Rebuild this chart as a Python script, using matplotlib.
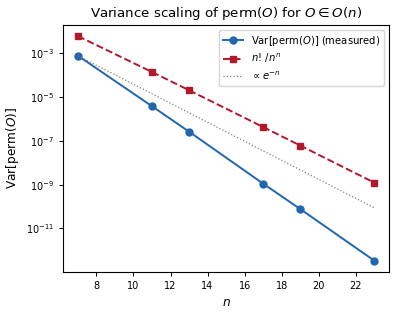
import numpy as np
import matplotlib
matplotlib.use("Agg")
import matplotlib.pyplot as plt
from matplotlib.ticker import NullLocator

# matrix sizes
n_vals = np.array([7, 11, 13, 17, 19, 23])
# measured variance of perm(O)
var_meas = np.array([7.76e-4, 3.83e-6, 2.64e-7, 1.12e-9, 7.76e-11, 3.40e-13])
# n!/n^n
fact_ratio = np.array([6.12e-3, 1.40e-4, 2.06e-5, 4.30e-7, 6.15e-8, 1.24e-9])

# reference slope anchored at the first measured point
ref_line = var_meas[0] * np.exp(-(n_vals - n_vals[0]))

fig = plt.figure(figsize=(3.97, 3.15), dpi=100)
ax = fig.add_axes([0.159, 0.137, 0.821, 0.784])

ax.semilogy(n_vals, var_meas, 'o-', color='#2166ac', lw=1.4, ms=5,
            label=r'Var[perm($O$)] (measured)')
ax.semilogy(n_vals, fact_ratio, 's--', color='#b2182b', lw=1.4, ms=4.5,
            label=r'$n!\,/n^n$')
ax.semilogy(n_vals, ref_line, ':', color='gray', lw=0.9,
            label=r'$\propto e^{-n}$')

ax.yaxis.set_minor_locator(NullLocator())
ax.set_xlabel(r'$n$', fontsize=8.7)
ax.set_ylabel(r'Var[perm($O$)]', fontsize=8.7)
ax.set_title(r'Variance scaling of perm($O$) for $O \in O(n)$', fontsize=9.6)
ax.tick_params(labelsize=7, length=2.8, width=0.7)
for s in ax.spines.values():
    s.set_linewidth(0.8)
ax.legend(fontsize=7.2, loc='upper right', labelspacing=0.4)

fig.savefig('out.png', dpi=100)
